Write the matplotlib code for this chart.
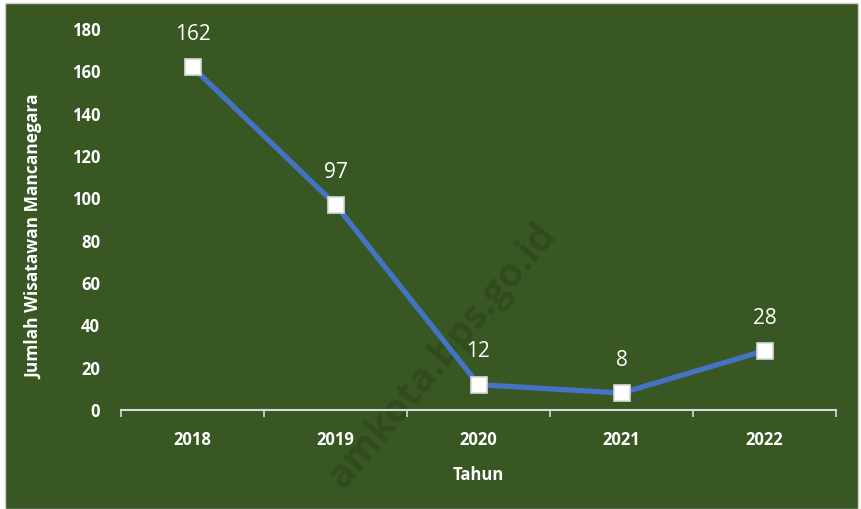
import matplotlib.pyplot as plt
from matplotlib.patches import Rectangle

# data
tahun = ['2018', '2019', '2020', '2021', '2022']
jumlah = [162, 97, 12, 8, 28]

bg = '#385723'
plt.rcParams['font.family'] = ['Open Sans', 'DejaVu Sans']

fig = plt.figure(figsize=(8.61, 5.09), dpi=100)
fig.patch.set_facecolor('white')
# green chart area with light border
fig.patches.append(Rectangle((5 / 861, 0), 853 / 861, 506 / 509, transform=fig.transFigure,
                             facecolor=bg, edgecolor='#d0d0d0', linewidth=1, zorder=-5))

ax = fig.add_axes([121 / 861, 1 - 410 / 509, 715 / 861, 381 / 509])
ax.set_facecolor('none')
ax.set_zorder(2)

x = list(range(len(tahun)))
ax.plot(x, jumlah, color='#4472c4', linewidth=3.8, zorder=2,
        marker='s', markersize=11, markerfacecolor='white',
        markeredgecolor='#d9d9d9', markeredgewidth=1.2)

for xi, v in zip(x, jumlah):
    ax.annotate(str(v), (xi, v), xytext=(0, 23.5), textcoords='offset points',
                ha='center', va='center', color='white', fontsize=15)

ax.set_xlim(-0.5, len(tahun) - 0.5)
ax.set_ylim(0, 180)
ax.set_yticks(range(0, 181, 20))
ax.set_xticks(x)
ax.set_xticklabels(tahun)
ax.set_xticks([i - 0.5 for i in range(len(tahun) + 1)], minor=True)

for s in ['top', 'right', 'left']:
    ax.spines[s].set_visible(False)
ax.spines['bottom'].set_color('#d9d9d9')
ax.spines['bottom'].set_linewidth(1.5)

ax.tick_params(axis='y', length=0, pad=15, labelcolor='white', labelsize=12)
ax.tick_params(axis='x', which='major', length=0, pad=15, labelcolor='white', labelsize=12)
ax.tick_params(axis='x', which='minor', length=5, width=1.2, color='#d9d9d9', direction='out')
for lab in ax.get_xticklabels() + ax.get_yticklabels():
    lab.set_fontweight('bold')

ax.set_xlabel('Tahun', color='white', fontsize=12, fontweight='bold', labelpad=12)
ax.set_ylabel('Jumlah Wisatawan Mancanegara', color='white', fontsize=12.5,
              fontweight='bold', labelpad=12)
ax.yaxis.set_label_coords(-78 / 715, 0.455)

# watermark
fig.text(442 / 861, 1 - 356 / 509, 'amkota.bps.go.id', rotation=50, ha='center', va='center',
         fontsize=28, fontweight='bold', color='black', alpha=0.13, zorder=1)

fig.savefig('out.png', dpi=100, facecolor=fig.get_facecolor())
